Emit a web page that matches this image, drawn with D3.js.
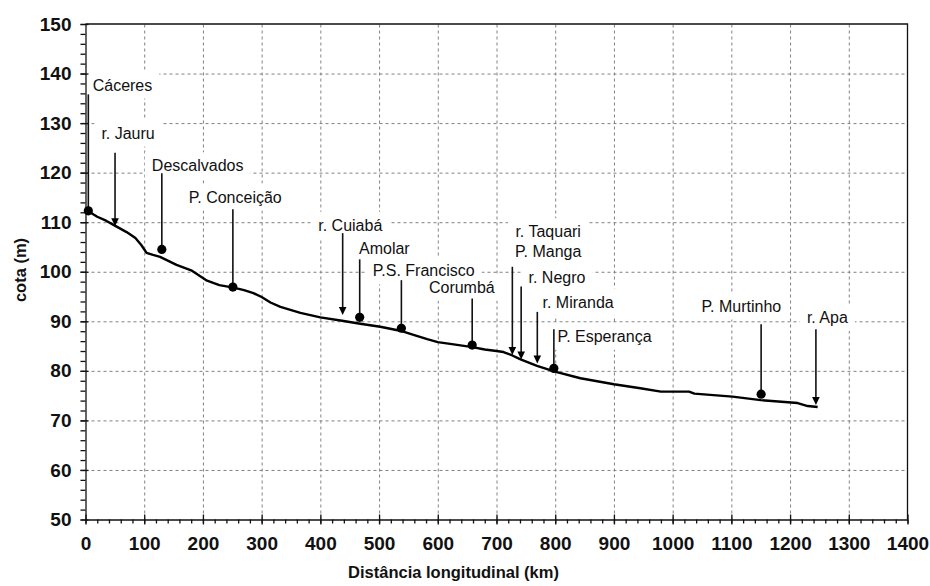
<!DOCTYPE html>
<html lang="pt">
<head>
    <meta charset="utf-8">
    <title>Perfil longitudinal</title>
    <style>
        body {
            margin: 0;
            background: #fff;
            font-family: Arial, "Liberation Sans", sans-serif;
        }

        .grid line {
            stroke: #808080;
            stroke-dasharray: 3, 3;
        }

        .grid .domain {
            display: none;
        }

        .axis text {
            font-family: Arial, "Liberation Sans", sans-serif;
            font-size: 19px;
            font-weight: bold;
            fill: #111;
        }

        .axis line, .axis path {
            stroke: #111;
            stroke-width: 1.3px;
        }

        .axis-title {
            font-size: 16.5px;
            font-weight: bold;
            fill: #111;
        }

        .note text {
            font-size: 16px;
            fill: #111;
        }
    </style>
</head>
<body>
    <svg id="chart" width="930" height="586"></svg>

    <script src="https://cdnjs.cloudflare.com/ajax/libs/d3/7.8.5/d3.min.js"></script>
    <script>
        // river profile: distance (km) and elevation (m)
        const profileKm = [4.8, 20, 35, 50, 70, 85, 95, 104, 115, 127, 155, 180, 207, 228, 252, 270,
            286, 300, 315, 332, 366, 400, 437, 468, 502, 536, 560, 582, 600, 630, 659, 680, 700,
            712, 727, 741, 769, 785, 798, 843, 900, 945, 980, 1028, 1037, 1102, 1150, 1213, 1230, 1247];
        const profileCota = [112.2, 111.1, 110.3, 109.3, 108.0, 106.8, 105.4, 103.8, 103.4, 103.0, 101.4,
            100.3, 98.2, 97.3, 96.8, 96.3, 95.7, 94.9, 93.8, 92.9, 91.7, 90.8, 90.1, 89.5, 88.9, 88.1,
            87.2, 86.4, 85.8, 85.3, 84.8, 84.3, 84.0, 83.8, 83.1, 82.3, 81.0, 80.4, 79.9, 78.5, 77.3,
            76.5, 75.8, 75.8, 75.4, 74.8, 74.1, 73.5, 72.9, 72.7];

        // annotated places: marker position, top of the leader line and label centre (data units)
        const placeNames = ["Cáceres", "r. Jauru", "Descalvados", "P. Conceição", "r. Cuiabá", "Amolar",
            "P.S. Francisco", "Corumbá", "r. Taquari\nP. Manga", "r. Negro", "r. Miranda",
            "P. Esperança", "P. Murtinho", "r. Apa"];
        const placeKind = ["dot", "arrow", "dot", "dot", "arrow", "dot", "dot", "dot", "arrow", "arrow",
            "arrow", "dot", "dot", "arrow"];
        const placeKm = [4.8, 50.3, 130, 251, 438, 467, 538, 658.6, 727, 742, 769.5, 797.7, 1150.7, 1244];
        const placeCota = [112.3, 109.2, 104.5, 96.9, 91.25, 90.8, 88.6, 85.2, 83.2, 82.3, 81.5, 80.5, 75.3, 73.1];
        const leaderTop = [135.8, 124.0, 119.9, 112.6, 107.8, 102.5, 98.3, 94.6, 101.0, 97.0, 91.9, 88.4, 89.4, 88.4];
        const labelKm = [63, 72.5, 191, 255, 451, 509, 576, 641, 788, 803, 839, 884, 1117, 1263.5];
        const labelCota = [137.7, 128.0, 121.4, 115.1, 109.4, 104.8, 100.2, 96.9, 106.15, 98.8, 93.9, 87.0, 93.1, 90.8];

        const xMajor = d3.range(0, 1401, 100);
        const xMinor = d3.range(0, 1401, 20);
        const yMajor = d3.range(50, 151, 10);
        const yMinor = d3.range(50, 151, 2);

        const svg = d3.select("#chart");
        const margin = {top: 24, right: 22.5, bottom: 66.5, left: 85.5};
        const width = 930 - margin.left - margin.right;
        const height = 586 - margin.top - margin.bottom;

        const x = d3.scaleLinear().domain([0, 1400]).range([0, width]);
        const y = d3.scaleLinear().domain([50, 150]).range([height, 0]);

        const g = svg.append("g")
            .attr("transform", `translate(${margin.left},${margin.top})`);

        // Grid
        g.append("g")
            .attr("class", "grid")
            .attr("transform", `translate(0,${height})`)
            .call(d3.axisBottom(x).tickValues(xMajor.slice(1, -1)).tickSize(-height).tickFormat(""));

        g.append("g")
            .attr("class", "grid")
            .call(d3.axisLeft(y).tickValues(yMajor.slice(1, -1)).tickSize(-width).tickFormat(""));

        // Label boxes hide the grid behind the text
        const notes = g.append("g").attr("class", "note");
        const boxes = notes.append("g");
        const texts = notes.append("g");
        const lineH = 19.3;

        placeNames.forEach((name, i) => {
            const lines = name.split("\n");
            const t = texts.append("text")
                .attr("text-anchor", "middle")
                .attr("x", x(labelKm[i]));
            lines.forEach((ln, j) => {
                t.append("tspan")
                    .attr("x", x(labelKm[i]))
                    .attr("y", y(labelCota[i]) + (j - (lines.length - 1) / 2) * lineH)
                    .attr("dy", "0.35em")
                    .text(ln);
            });
            const bb = t.node().getBBox();
            boxes.append("rect")
                .attr("x", bb.x - 7)
                .attr("y", bb.y - 5)
                .attr("width", bb.width + 14)
                .attr("height", bb.height + 10)
                .attr("fill", "#fff");
        });

        // Frame (top and right)
        g.append("path")
            .attr("d", `M0,0H${width}V${height}`)
            .attr("fill", "none")
            .attr("stroke", "#111")
            .attr("stroke-width", 1.3);

        // Axes
        g.append("g")
            .attr("class", "axis")
            .attr("transform", `translate(0,${height})`)
            .call(d3.axisBottom(x).tickValues(xMinor).tickSizeInner(4).tickSizeOuter(0).tickFormat(""));

        g.append("g")
            .attr("class", "axis")
            .attr("transform", `translate(0,${height})`)
            .call(d3.axisBottom(x).tickValues(xMajor).tickSizeInner(5).tickSizeOuter(0)
                .tickPadding(12).tickFormat(d3.format("d")))
            .call(a => a.select(".domain").remove())
            .call(a => a.selectAll(".tick line").attr("y1", -5));

        g.append("g")
            .attr("class", "axis")
            .call(d3.axisLeft(y).tickValues(yMinor).tickSizeInner(5).tickSizeOuter(0).tickFormat(""));

        g.append("g")
            .attr("class", "axis")
            .call(d3.axisLeft(y).tickValues(yMajor).tickSizeInner(5).tickSizeOuter(0).tickPadding(9))
            .call(a => a.select(".domain").remove())
            .call(a => a.selectAll(".tick line").attr("x1", 3));

        // Axis titles
        svg.append("text")
            .attr("class", "axis-title")
            .attr("x", 453.5)
            .attr("y", 578)
            .attr("text-anchor", "middle")
            .text("Distância longitudinal (km)");

        svg.append("text")
            .attr("class", "axis-title")
            .attr("transform", "translate(26,270) rotate(-90)")
            .attr("text-anchor", "middle")
            .text("cota (m)");

        // Profile
        const profile = profileKm.map((d, i) => [d, profileCota[i]]);
        g.append("path")
            .datum(profile)
            .attr("fill", "none")
            .attr("stroke", "#000")
            .attr("stroke-width", 2.4)
            .attr("stroke-linejoin", "round")
            .attr("d", d3.line().x(d => x(d[0])).y(d => y(d[1])));

        // Leader lines, dots and arrow heads
        placeNames.forEach((name, i) => {
            const px = x(placeKm[i]);
            const py = y(placeCota[i]);
            const top = y(leaderTop[i]);
            if (placeKind[i] === "dot") {
                g.append("line")
                    .attr("x1", px).attr("x2", px)
                    .attr("y1", top).attr("y2", py)
                    .attr("stroke", "#111").attr("stroke-width", 1.6);
                g.append("circle")
                    .attr("cx", px).attr("cy", py).attr("r", 4.6)
                    .attr("fill", "#000");
            } else {
                g.append("line")
                    .attr("x1", px).attr("x2", px)
                    .attr("y1", top).attr("y2", py - 6)
                    .attr("stroke", "#111").attr("stroke-width", 1.6);
                g.append("path")
                    .attr("d", `M${px - 3.8},${py - 8}L${px + 3.8},${py - 8}L${px},${py}Z`)
                    .attr("fill", "#000");
            }
        });

        texts.raise();
    </script>
</body>
</html>
